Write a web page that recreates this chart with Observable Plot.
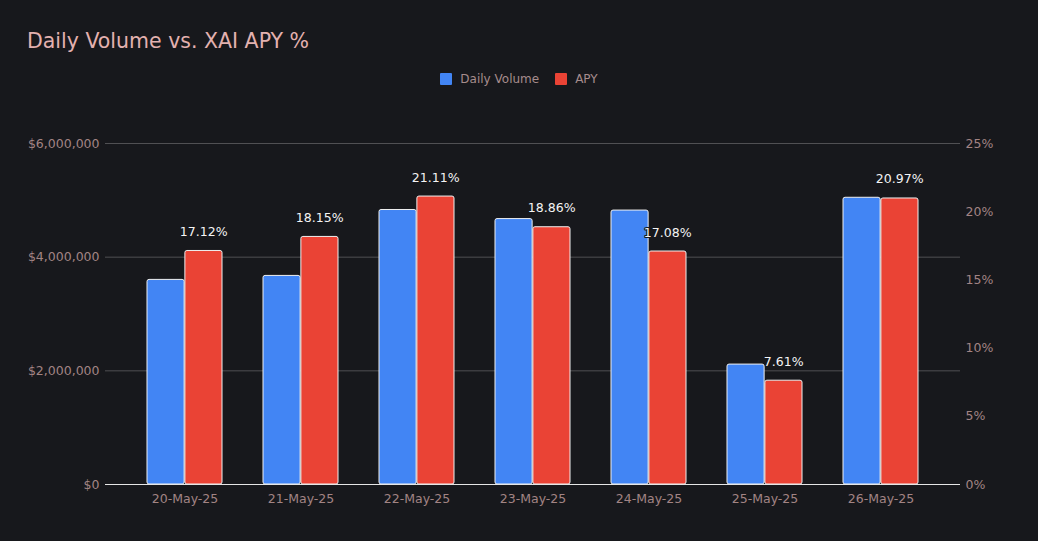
<!DOCTYPE html>
<html>
<head>
<meta charset="utf-8">
<script src="https://cdn.jsdelivr.net/npm/d3@7"></script>
<script src="https://cdn.jsdelivr.net/npm/@observablehq/plot@0.6"></script>
<style>
  html, body { margin: 0; padding: 0; background: #17181c; }
  body { width: 1038px; height: 541px; overflow: hidden; font-family: "DejaVu Sans", sans-serif; }
  #header { position: relative; width: 1038px; height: 100px; }
  #title { position: absolute; left: 27px; top: 29px; font-size: 20.5px; color: #e3b1af; white-space: nowrap; }
  #legend { position: absolute; left: 0; width: 1038px; top: 70px; height: 18px; display: flex; justify-content: center; align-items: center; font-size: 12px; color: #a68c8c; }
  .sw { width: 12px; height: 12px; border-radius: 1px; margin-right: 8px; }
  .item { display: flex; align-items: center; margin: 0 8px; }
  #chart svg { display: block; }
</style>
</head>
<body>
<div id="header">
  <div id="title">Daily Volume vs. XAI APY %</div>
  <div id="legend"></div>
</div>
<div id="chart"></div>
<script>
// ---- data ----
const dates = ["20-May-25", "21-May-25", "22-May-25", "23-May-25", "24-May-25", "25-May-25", "26-May-25"];
const volume = [3600000, 3670000, 4830000, 4670000, 4820000, 2110000, 5045000];
const apy = [17.12, 18.15, 21.11, 18.86, 17.08, 7.61, 20.97];
const seriesNames = ["Daily Volume", "APY"];
const seriesColors = ["#4285f4", "#ea4335"];
const volumeTicks = [0, 2000000, 4000000, 6000000];
const apyTicks = [0, 5, 10, 15, 20, 25];

// ---- layout ----
const W = 1038, H = 441;
const mL = 105, mR = 78, mT = 43, mB = 57;
const padInner = 0.356, padOuter = 0.36;
const volMax = 6000000, apyMax = 25;
const k = volMax / apyMax; // map APY onto volume scale for a shared y

const rows = dates.map((d, i) => ({date: d, volume: volume[i], apy: apy[i], apyScaled: apy[i] * k}));

const bw = d3.scaleBand().domain(dates).range([mL, W - mR]).paddingInner(padInner).paddingOuter(padOuter).bandwidth();

// legend
const legend = document.getElementById("legend");
seriesNames.forEach((n, i) => {
  const it = document.createElement("div");
  it.className = "item";
  it.innerHTML = `<div class="sw" style="background:${seriesColors[i]}"></div><span>${n}</span>`;
  legend.appendChild(it);
});

const tickColor = "#a28484";
const fmtMoney = d => "$" + d3.format(",")(d);

const plot = Plot.plot({
  width: W,
  height: H,
  marginLeft: mL,
  marginRight: mR,
  marginTop: mT,
  marginBottom: mB,
  style: {background: "transparent", color: tickColor, fontFamily: "DejaVu Sans, sans-serif", fontSize: "12.5px"},
  x: {domain: dates, paddingInner: padInner, paddingOuter: padOuter, label: null},
  y: {domain: [0, volMax], label: null},
  marks: [
    Plot.gridY(volumeTicks.filter(v => v > 0), {stroke: "#505053", strokeOpacity: 1}),
    Plot.barY(rows, {x: "date", y: "volume", fill: seriesColors[0], stroke: "#f0f0f0", strokeWidth: 1, insetRight: bw / 2 + 0.5, rx: 2}),
    Plot.barY(rows, {x: "date", y: "apyScaled", fill: seriesColors[1], stroke: "#f0f0f0", strokeWidth: 1, insetLeft: bw / 2 + 0.5, rx: 2}),
    Plot.ruleY([0], {stroke: "#e6e6e6", strokeWidth: 1}),
    Plot.text(rows, {x: "date", y: "apyScaled", text: d => d.apy.toFixed(2) + "%", dx: bw / 4, dy: -19, fill: "#f4f4f4", stroke: "#17181c", strokeWidth: 2, fontSize: 12.5}),
    Plot.axisY({anchor: "left", ticks: volumeTicks, tickFormat: fmtMoney, tickSize: 0, tickPadding: 6, label: null}),
    Plot.axisY({anchor: "right", ticks: apyTicks.map(v => v * k), tickFormat: d => Math.round(d / k) + "%", tickSize: 0, tickPadding: 5, label: null}),
    Plot.axisX({anchor: "bottom", tickSize: 0, tickPadding: 10, label: null})
  ]
});
document.getElementById("chart").appendChild(plot);
</script>
</body>
</html>
